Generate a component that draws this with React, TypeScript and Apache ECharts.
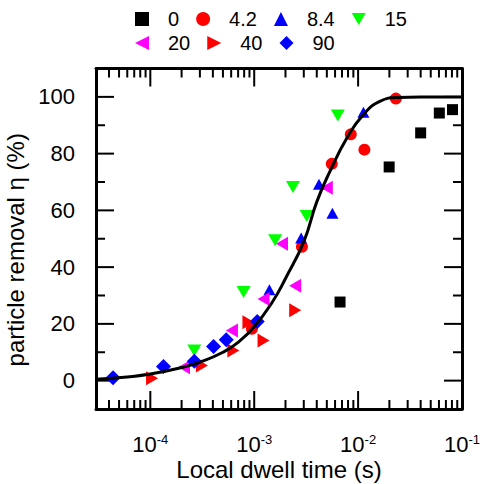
import React, { useEffect, useRef } from 'react';
import * as echarts from 'echarts';

// ---- data (dwell time in s, removal in %) ----
const t0 = [6.7e-3, 0.0199, 0.040, 0.0605, 0.081];
const eta0 = [27.7, 75.3, 87.3, 94.3, 95.5];

const t42 = [9.5e-4, 2.88e-3, 5.58e-3, 8.5e-3, 0.0115, 0.0231];
const eta42 = [18.3, 47.2, 76.4, 86.8, 81.4, 99.4];

const t84 = [1.40e-3, 2.83e-3, 4.2e-3, 5.66e-3, 0.01125];
const eta84 = [32.0, 50.3, 69.2, 59.0, 94.6];

const t15 = [2.65e-4, 7.9e-4, 1.59e-3, 2.36e-3, 3.2e-3, 6.38e-3];
const eta15 = [10.6, 31.2, 49.5, 68.2, 58.0, 93.4];

const t20 = [2.11e-4, 6.1e-4, 1.23e-3, 1.85e-3, 2.48e-3, 5.0e-3];
const eta20 = [4.7, 17.7, 28.8, 48.2, 33.4, 68.0];

const t40 = [1.04e-4, 3.14e-4, 6.3e-4, 8.8e-4, 1.23e-3, 2.48e-3];
const eta40 = [0.8, 5.3, 10.6, 20.6, 14.1, 24.8];

const t90 = [4.38e-5, 1.34e-4, 2.65e-4, 4.06e-4, 5.38e-4, 1.07e-3];
const eta90 = [1.0, 5.0, 6.8, 12.0, 14.4, 20.8];

// fitted curve, points
const fitT = [3e-5, 6e-5, 1e-4, 2e-4, 3e-4, 5e-4, 7e-4, 1e-3, 1.5e-3, 2e-3, 3e-3, 4e-3, 5.4e-3, 7.8e-3, 1.12e-2, 1.6e-2, 2.4e-2, 4e-2, 0.1];
const fitEta = [0.5, 1.3, 2.3, 4.6, 6.5, 10, 13.5, 19, 27.8, 36, 49, 63, 74, 85.5, 93.7, 98.3, 99.8, 100, 100];

// axes and ticks
const X_MIN = 3e-5;
const X_MAX = 0.1;
const Y_MIN = -10;
const Y_MAX = 110;
const xMajor = [1e-4, 1e-3, 1e-2, 1e-1];
const xMinor = [4e-5, 5e-5, 6e-5, 7e-5, 8e-5, 9e-5,
  2e-4, 3e-4, 4e-4, 5e-4, 6e-4, 7e-4, 8e-4, 9e-4,
  2e-3, 3e-3, 4e-3, 5e-3, 6e-3, 7e-3, 8e-3, 9e-3,
  2e-2, 3e-2, 4e-2, 5e-2, 6e-2, 7e-2, 8e-2, 9e-2];
const yMajor = [0, 20, 40, 60, 80, 100];
const yMinor = [10, 30, 50, 70, 90];

const FONT = '"Liberation Sans", Arial, Helvetica, sans-serif';

const zip = (a: number[], b: number[]) => a.map((v, i) => [v, b[i]]);

// marker shapes
const DOWN = 'path://M0,0L10,0L5,8.66Z';
const LEFT = 'path://M10,0L10,10L0,5Z';
const RIGHT = 'path://M0,0L10,5L0,10Z';

// inward tick marks drawn as thin rectangular scatter symbols sitting on the frame
const tickMarks = (pts: number[][], size: number[], offset: number[]) => ({
  type: 'scatter', data: pts, symbol: 'rect', symbolSize: size, symbolOffset: offset,
  itemStyle: { color: '#000000', opacity: 1 },
  xAxisIndex: 0, yAxisIndex: 0,
});

export default function App() {
  const ref = useRef<HTMLDivElement>(null);
  useEffect(() => {
    if (!ref.current) return;
    const chart = echarts.init(ref.current, undefined, { renderer: 'svg' });
    const axLine = { show: true, onZero: false, lineStyle: { color: '#000', width: 3 } };
    const xBase = { type: 'log', logBase: 10, min: X_MIN, max: X_MAX, splitLine: { show: false }, axisTick: { show: false } };
    const yBase = { type: 'value', min: Y_MIN, max: Y_MAX, splitLine: { show: false }, axisTick: { show: false } };
    const xAxes = [
      {
        ...xBase, position: 'bottom', axisLine: axLine,
        axisLabel: {
          show: true, customValues: xMajor, margin: 24,
          formatter: (v: number) => `{b|10}{s|${Math.round(Math.log10(v))}}`,
          rich: {
            b: { fontSize: 22, fontFamily: FONT, color: '#000' },
            s: { fontSize: 13, fontFamily: FONT, color: '#000', padding: [0, 0, 10, 0] },
          },
        },
        name: 'Local dwell time (s)', nameLocation: 'middle', nameGap: 48, nameMoveOverlap: false,
        nameTextStyle: { fontSize: 24, fontFamily: FONT, color: '#000' },
      },
      { ...xBase, position: 'top', axisLine: axLine, axisLabel: { show: false } },
    ];
    const yAxes = [
      {
        ...yBase, position: 'left', axisLine: axLine,
        axisLabel: { show: true, customValues: yMajor, margin: 21, fontSize: 22, fontFamily: FONT, color: '#000' },
        name: 'particle removal η (%)', nameLocation: 'middle', nameGap: 60, nameRotate: 90,
        nameTextStyle: { fontSize: 24, fontFamily: FONT, color: '#000', padding: [0, 22, 0, 0] },
      },
      { ...yBase, position: 'right', axisLine: axLine, axisLabel: { show: false } },
    ];
    const sc = (name: string, t: number[], e: number[], symbol: string, size: any, color: string) => ({
      name, type: 'scatter', data: zip(t, e), symbol, symbolSize: size,
      itemStyle: { color, opacity: 1 }, xAxisIndex: 0, yAxisIndex: 0,
    });
    const legendCommon = {
      itemWidth: 14, itemHeight: 14, itemGap: 17, selectedMode: false, orient: 'horizontal',
      formatter: (name: string) => `{g| }{t|${name}}`,
      textStyle: {
        fontSize: 20, fontFamily: FONT, color: '#000',
        rich: { g: { width: 14, fontSize: 20 }, t: { fontSize: 20, fontFamily: FONT, color: '#000' } },
      },
    };
    const TW = 2;
    chart.setOption({
      animation: false,
      backgroundColor: '#fff',
      grid: { left: 96, right: 18, top: 68.5, bottom: 75, containLabel: false, outerBoundsMode: 'none' },
      legend: [
        { ...legendCommon, left: 130, top: 4, data: ['0', '4.2', '8.4', '15'] },
        { ...legendCommon, left: 130, top: 28, data: ['20', '40', '90'] },
      ],
      xAxis: xAxes,
      yAxis: yAxes,
      series: [
        // bottom / top x ticks
        tickMarks(xMajor.map((v) => [v, Y_MIN]), [TW, 18], [0, -9]),
        tickMarks(xMinor.map((v) => [v, Y_MIN]), [TW, 9], [0, -4.5]),
        tickMarks(xMajor.map((v) => [v, Y_MAX]), [TW, 18], [0, 9]),
        tickMarks(xMinor.map((v) => [v, Y_MAX]), [TW, 9], [0, 4.5]),
        // left / right y ticks
        tickMarks(yMajor.map((v) => [X_MIN, v]), [18, TW], [9, 0]),
        tickMarks(yMinor.map((v) => [X_MIN, v]), [9, TW], [4.5, 0]),
        tickMarks(yMajor.map((v) => [X_MAX, v]), [18, TW], [-9, 0]),
        tickMarks(yMinor.map((v) => [X_MAX, v]), [9, TW], [-4.5, 0]),
        sc('0', t0, eta0, 'rect', 11, '#000000'),
        sc('4.2', t42, eta42, 'circle', 12, '#ff0000'),
        sc('8.4', t84, eta84, 'triangle', [12, 11], '#0000ff'),
        sc('15', t15, eta15, DOWN, [14, 12], '#00ff00'),
        sc('20', t20, eta20, LEFT, [12, 14], '#ff00ff'),
        sc('40', t40, eta40, RIGHT, [12, 14], '#ff0000'),
        sc('90', t90, eta90, 'diamond', 15, '#0000ff'),
        {
          type: 'line', data: zip(fitT, fitEta), smooth: true, showSymbol: false, symbol: 'none',
          lineStyle: { color: '#000', width: 3 }, xAxisIndex: 0, yAxisIndex: 0,
        },
      ],
    });

    return () => chart.dispose();
  }, []);
  return <div ref={ref} style={{ position: 'absolute', left: 0, top: 0, width: 480, height: 484 }} />;
}
